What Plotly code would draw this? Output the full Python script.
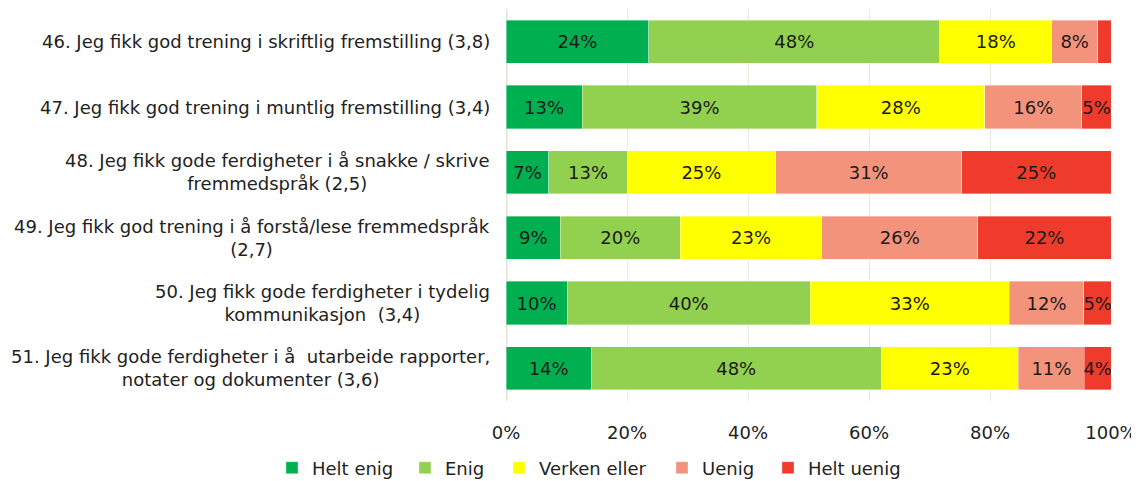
import plotly.graph_objects as go

categories = [
    "46. Jeg fikk god trening i skriftlig fremstilling (3,8)",
    "47. Jeg fikk god trening i muntlig fremstilling (3,4)",
    "48. Jeg fikk gode ferdigheter i å snakke / skrive<br>fremmedspråk (2,5)",
    "49. Jeg fikk god trening i å forstå/lese fremmedspråk<br>(2,7)",
    "50. Jeg fikk gode ferdigheter i tydelig<br>kommunikasjon  (3,4)",
    "51. Jeg fikk gode ferdigheter i å  utarbeide rapporter,<br>notater og dokumenter (3,6)",
]
series_names = ["Helt enig", "Enig", "Verken eller", "Uenig", "Helt uenig"]
helt_enig = [23.6, 12.6, 7.1, 9.0, 10.1, 14.1]
enig = [48.1, 38.8, 12.9, 19.8, 40.2, 47.9]
verken = [18.5, 27.7, 24.6, 23.4, 32.9, 22.7]
uenig = [7.6, 16.1, 30.7, 25.8, 12.3, 10.9]
helt_uenig = [2.2, 4.8, 24.7, 22.0, 4.6, 4.4]
show_label = [
    [True] * 6,
    [True] * 6,
    [True] * 6,
    [True] * 6,
    [False, True, True, True, True, True],
]
colors = ["#00B050", "#92D050", "#FFFF00", "#F4937C", "#EE3B2C"]
xticks = [0, 20, 40, 60, 80, 100]

data = [helt_enig, enig, verken, uenig, helt_uenig]
ids = list(range(len(categories)))
FONT = "DejaVu Sans"
W, H = 1131, 473  # page body adds an 8px margin

# legend item text start positions (px in figure)
legend_text_x = [304, 437, 531, 694, 800]
legend_names = ["legend", "legend2", "legend3", "legend4", "legend5"]

fig = go.Figure()
for name, vals, col, shows, lg in zip(series_names, data, colors, show_label, legend_names):
    fig.add_trace(go.Bar(
        name=name, y=ids, x=vals, orientation="h", legend=lg,
        marker=dict(color=col, line=dict(width=0.6, color="rgba(255,255,255,0.6)")),
        text=[f"{round(v):.0f}%" if s else "" for v, s in zip(vals, shows)],
        textposition="inside", insidetextanchor="middle", textangle=0,
        textfont=dict(color="#1a1a1a", size=18, family=FONT),
        constraintext="none",
        width=0.66,
    ))

for i, c in zip(ids, categories):
    fig.add_annotation(x=0, xref="paper", xanchor="right", xshift=-14,
                       y=i, yref="y", text=c, showarrow=False, align="center",
                       font=dict(size=18, family=FONT, color="#222"))

legend_layout = {}
for lg, tx in zip(legend_names, legend_text_x):
    legend_layout[lg] = dict(
        orientation="h", x=(tx - 40) / W, xanchor="left", xref="container",
        y=13 / H, yanchor="middle", yref="container",
        font=dict(size=18, family=FONT, color="#222"), itemwidth=30,
        bgcolor="rgba(0,0,0,0)",
    )

fig.update_layout(
    barmode="stack",
    width=W, height=H,
    margin=dict(l=498, r=28, t=1, b=80, autoexpand=False),
    paper_bgcolor="white", plot_bgcolor="white",
    font=dict(family=FONT, size=18, color="#222"),
    showlegend=True,
    **legend_layout,
)
fig.update_xaxes(range=[0, 100], tickvals=xticks, ticktext=[f"{t}%" for t in xticks],
                 showgrid=True, gridcolor="#EDEAE3", gridwidth=1,
                 zeroline=False, showline=False, ticks="", ticklen=0,
                 ticklabelstandoff=19,
                 tickfont=dict(size=18, family=FONT, color="#222"))
fig.update_yaxes(range=[len(categories) - 0.5, -0.5], showticklabels=False,
                 showgrid=False, zeroline=False, showline=False)
fig.add_shape(type="line", xref="x", yref="paper", x0=0, x1=0, y0=0, y1=1,
              line=dict(color="#E6E2D8", width=3), layer="below")

fig.write_html("out.html")
